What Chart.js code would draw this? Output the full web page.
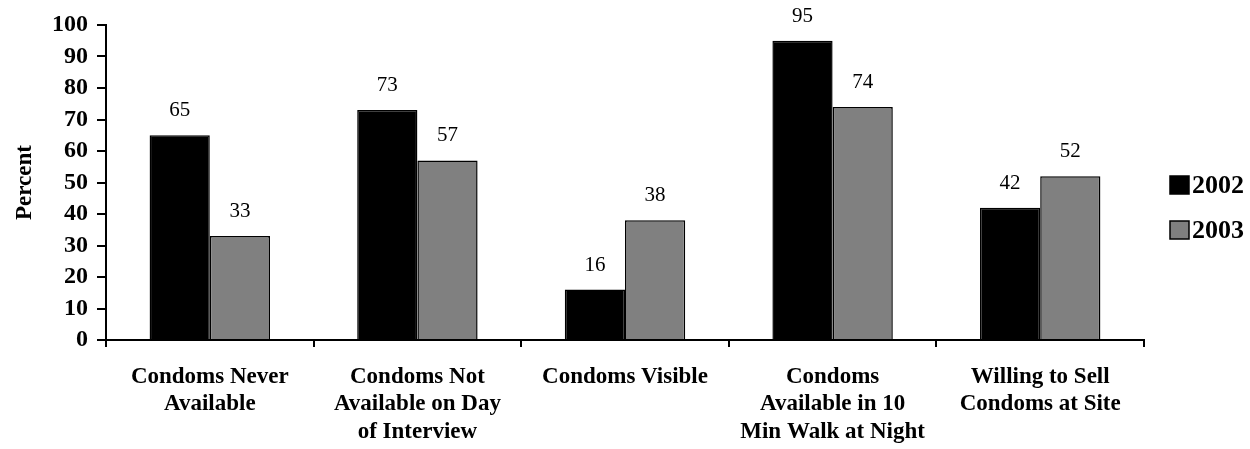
<!DOCTYPE html>
<html>
<head>
<meta charset="utf-8">
<script src="https://cdn.jsdelivr.net/npm/chart.js@4"></script>
<style>
  html, body { margin: 0; padding: 0; background: #fff; }
  #wrap { width: 1250px; height: 449px; position: relative; }
</style>
</head>
<body>
<div id="wrap"><canvas id="chart" width="1250" height="449"></canvas></div>
<script>
const categories = [
    ["Condoms Never", "Available"],
    ["Condoms Not", "Available on Day", "of Interview"],
    ["Condoms Visible"],
    ["Condoms", "Available in 10", "Min Walk at Night"],
    ["Willing to Sell", "Condoms at Site"]
];
const values2002 = [65, 73, 16, 95, 42];
const values2003 = [33, 57, 38, 74, 52];
const yTicks = [0, 10, 20, 30, 40, 50, 60, 70, 80, 90, 100];

const serif = "'Liberation Serif', 'Times New Roman', serif";

// value labels above each bar
const barLabels = {
    id: "barLabels",
    afterDatasetsDraw(chart) {
        const ctx = chart.ctx;
        ctx.save();
        ctx.font = "21px " + serif;
        ctx.fillStyle = "#000";
        ctx.textAlign = "center";
        ctx.textBaseline = "bottom";
        chart.data.datasets.forEach((ds, i) => {
            chart.getDatasetMeta(i).data.forEach((bar, j) => {
                ctx.fillText(ds.data[j], bar.x, bar.y - 14);
            });
        });
        ctx.restore();
    }
};

// legend drawn at the right side
const sideLegend = {
    id: "sideLegend",
    afterDraw(chart) {
        const ctx = chart.ctx;
        ctx.save();
        ctx.font = "bold 26px " + serif;
        ctx.textBaseline = "middle";
        chart.data.datasets.forEach((ds, i) => {
            const y = 185 + i * 45;
            ctx.fillStyle = ds.backgroundColor;
            ctx.fillRect(1170, y - 9, 19, 18);
            ctx.strokeStyle = "#000";
            ctx.lineWidth = 1.5;
            ctx.strokeRect(1170, y - 9, 19, 18);
            ctx.fillStyle = "#000";
            ctx.fillText(ds.label, 1192, y + 1);
        });
        ctx.restore();
    }
};

new Chart(document.getElementById("chart"), {
    type: "bar",
    data: {
        labels: categories,
        datasets: [
            { label: "2002", data: values2002, backgroundColor: "#000000", borderColor: "#000", borderWidth: 1.5 },
            { label: "2003", data: values2003, backgroundColor: "#808080", borderColor: "#000", borderWidth: 1.5 }
        ]
    },
    options: {
        responsive: false,
        animation: false,
        categoryPercentage: 0.58,
        barPercentage: 1.0,
        layout: { padding: { top: 25, right: 106, left: 11, bottom: 0 } },
        plugins: {
            legend: { display: false },
            tooltip: { enabled: false }
        },
        scales: {
            x: {
                offset: true,
                grid: { drawOnChartArea: false, drawTicks: true, tickLength: 7, color: "#000", lineWidth: 2, offset: true },
                border: { color: "#000", width: 2 },
                ticks: {
                    color: "#000",
                    maxRotation: 0,
                    minRotation: 0,
                    autoSkip: false,
                    padding: 16,
                    font: { family: serif, size: 23, weight: "bold", lineHeight: 1.2 }
                },
                afterFit(scale) { scale.height = 109; }
            },
            y: {
                min: 0,
                max: 100,
                afterBuildTicks(scale) { scale.ticks = yTicks.map(v => ({ value: v })); },
                grid: { drawOnChartArea: false, drawTicks: true, tickLength: 9, color: "#000", lineWidth: 2 },
                border: { color: "#000", width: 2 },
                ticks: {
                    color: "#000",
                    padding: 9,
                    autoSkip: false,
                    font: { family: serif, size: 24, weight: "bold" }
                },
                title: {
                    display: true,
                    text: "Percent",
                    color: "#000",
                    padding: 0,
                    font: { family: serif, size: 23, weight: "bold" }
                },
                afterFit(scale) { scale.width = 95; }
            }
        }
    },
    plugins: [barLabels, sideLegend]
});
</script>
</body>
</html>
